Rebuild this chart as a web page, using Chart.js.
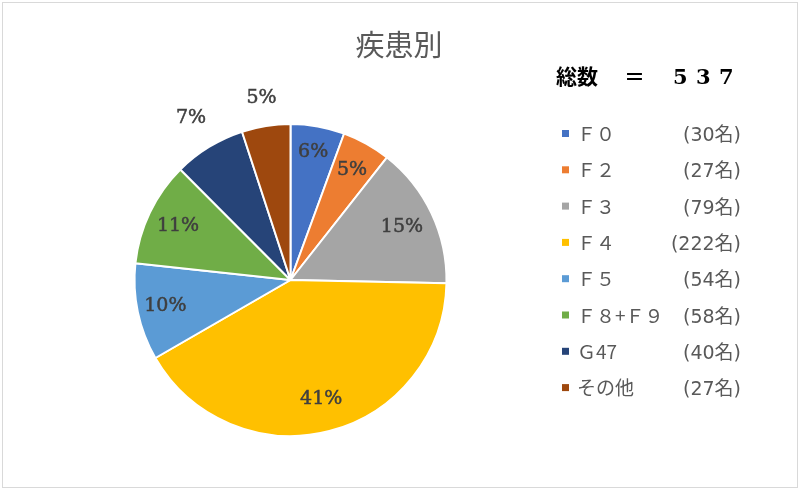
<!DOCTYPE html>
<html>
<head>
<meta charset="utf-8">
<script src="https://cdn.jsdelivr.net/npm/chart.js@4"></script>
<style>
  html, body { margin: 0; padding: 0; background: #fff; }
  #marco { position: relative; width: 800px; height: 490px; }
</style>
</head>
<body>
<div id="marco"><canvas id="grafica" width="800" height="490"></canvas></div>
<script>
// datos
const categorias = ['Ｆ０', 'Ｆ２', 'Ｆ３', 'Ｆ４', 'Ｆ５', 'Ｆ８+Ｆ９', 'Ｇ47', 'その他'];
const pacientes = [30, 27, 79, 222, 54, 58, 40, 27];
const colores = ['#4472C4', '#ED7D31', '#A5A5A5', '#FFC000', '#5B9BD5', '#70AD47', '#264478', '#9E480E'];
const titulo = '疾患別';

const total = pacientes.reduce((a, b) => a + b, 0);

// distancia de cada etiqueta respecto al radio
const factorEtiqueta = [0.83, 0.81, 0.79, 0.79, 0.82, 0.8, 1.22, 1.18];

const pluginEtiquetas = {
    id: 'etiquetas',
    afterDatasetsDraw(chart) {
        const ctx = chart.ctx;
        const meta = chart.getDatasetMeta(0);
        ctx.save();
        ctx.font = '19px "DejaVu Serif"';
        ctx.fillStyle = '#3F3F3F';
        ctx.strokeStyle = '#3F3F3F';
        ctx.lineWidth = 0.5;
        ctx.textAlign = 'center';
        ctx.textBaseline = 'middle';
        meta.data.forEach((arco, i) => {
            const p = arco.getProps(['x', 'y', 'startAngle', 'endAngle', 'outerRadius'], true);
            const medio = (p.startAngle + p.endAngle) / 2;
            const r = p.outerRadius * factorEtiqueta[i];
            const pct = Math.round(pacientes[i] / total * 100) + '%';
            const x = p.x + Math.cos(medio) * r;
            const y = p.y + Math.sin(medio) * r;
            ctx.fillText(pct, x, y);
            ctx.strokeText(pct, x, y);
        });
        ctx.restore();
    }
};

const pluginLeyenda = {
    id: 'leyenda',
    afterDraw(chart) {
        const ctx = chart.ctx;
        ctx.save();
        // marco exterior
        ctx.strokeStyle = '#D9D9D9';
        ctx.lineWidth = 1;
        ctx.strokeRect(2.5, 2.5, 795, 485);

        // titulo
        ctx.fillStyle = '#595959';
        ctx.font = '29px "Noto Sans CJK JP"';
        ctx.textAlign = 'center';
        ctx.textBaseline = 'middle';
        ctx.fillText(titulo, 399, 45);

        // total
        ctx.fillStyle = '#000000';
        ctx.textAlign = 'left';
        ctx.textBaseline = 'alphabetic';
        ctx.font = 'bold 21px "Noto Sans CJK JP"';
        ctx.fillText('総数', 556, 84);
        ctx.fillText('＝', 624, 84);
        ctx.font = 'bold 21px "DejaVu Serif"';
        String(total).split('').forEach((d, k) => {
            ctx.fillText(d, 673 + k * 23, 84);
        });

        // elementos
        categorias.forEach((c, i) => {
            const y = 134 + i * 36.3;
            ctx.fillStyle = colores[i];
            ctx.fillRect(562, y - 4, 7, 7);
            ctx.fillStyle = '#595959';
            ctx.textAlign = 'left';
            ctx.font = '19px "Noto Sans CJK JP"';
            ctx.fillText(c, 577, y + 7);
            ctx.textAlign = 'right';
            ctx.font = '19px "DejaVu Sans", "Noto Sans CJK JP"';
            ctx.fillText('(' + pacientes[i] + '名)', 741, y + 7);
        });
        ctx.restore();
    }
};

new Chart(document.getElementById('grafica'), {
    type: 'pie',
    data: {
        labels: categorias,
        datasets: [{
            data: pacientes,
            backgroundColor: colores,
            borderColor: '#FFFFFF',
            borderWidth: 2
        }]
    },
    options: {
        responsive: false,
        animation: false,
        devicePixelRatio: 1,
        layout: { padding: { left: 133, right: 352, top: 123, bottom: 53 } },
        plugins: {
            legend: { display: false },
            title: { display: false },
            tooltip: { enabled: false }
        }
    },
    plugins: [pluginEtiquetas, pluginLeyenda]
});
</script>
</body>
</html>
